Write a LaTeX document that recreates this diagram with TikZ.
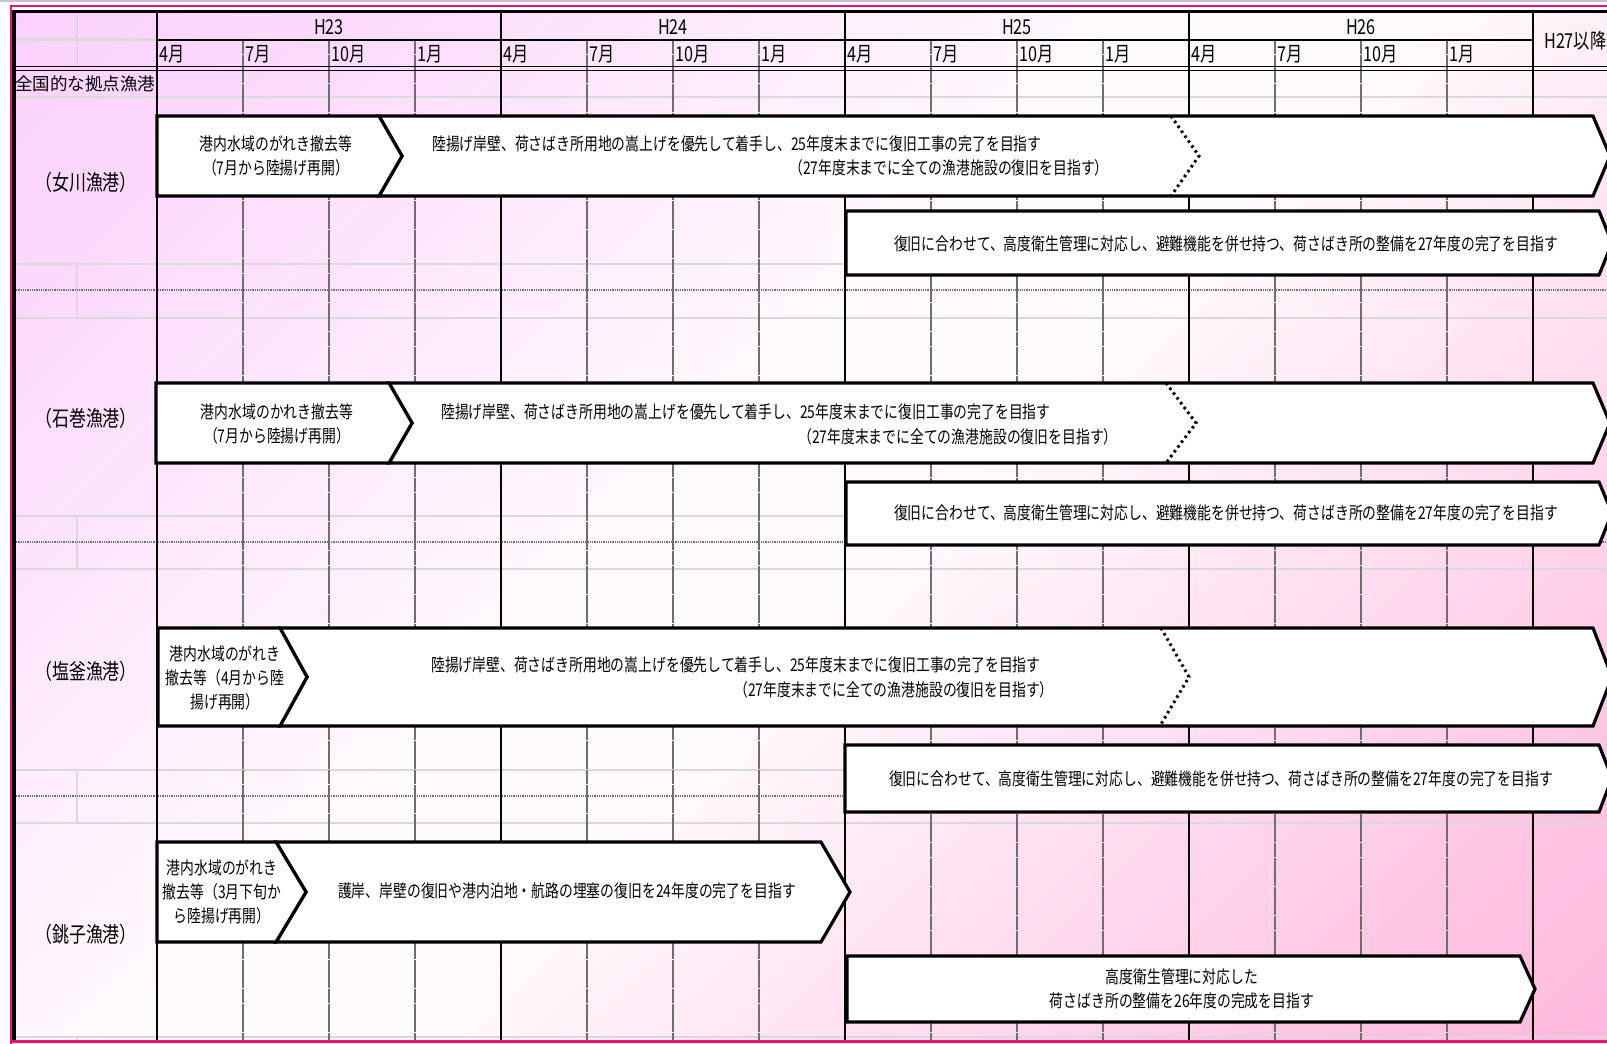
\documentclass[tikz,border=0pt]{standalone}
\usepackage{fontspec}
\newfontfamily\jpnarrow[FakeStretch=0.79]{Noto Sans CJK JP}
\newfontfamily\jpplain{Noto Sans CJK JP}
\definecolor{rim}{RGB}{236,18,110}
\definecolor{lilac}{RGB}{205,192,214}
\definecolor{cellgray}{RGB}{218,216,220}
\definecolor{qgray}{RGB}{110,110,110}
\definecolor{pinktl}{RGB}{248,196,248}
\definecolor{pinktlsoft}{RGB}{252,216,252}
\definecolor{pinkmid}{RGB}{255,250,253}
\definecolor{pinkbrsoft}{RGB}{255,196,227}
\definecolor{pinkbr}{RGB}{255,162,210}
\pgfdeclareverticalshading{sheet}{100bp}{color(0bp)=(pinkbr); color(22bp)=(pinkbrsoft); color(47bp)=(pinkmid); color(55bp)=(pinkmid); color(78bp)=(pinktlsoft); color(100bp)=(pinktl)}
\tikzset{
	plan/.style={draw=black, line width=3.2pt, fill=white},
	txt/.style={font=\jpnarrow\fontsize{17.5}{24}\selectfont, inner sep=0pt, align=center},
	head/.style={font=\jpnarrow\fontsize{20.5}{22}\selectfont, inner sep=0pt},
	port/.style={font=\jpnarrow\fontsize{21.5}{24}\selectfont, inner sep=0pt},
	cellline/.style={cellgray, line width=2.5pt},
	secline/.style={qgray, line width=2.5pt, dash pattern=on 1pt off 0.8pt},
	quarter/.style={qgray, line width=1.4pt, dash pattern=on 14pt off 0.6pt},
	yearline/.style={black, line width=2pt},
	hop/.style={black, line width=3pt, dash pattern=on 2.5pt off 3.5pt}
}
\begin{document}
\begin{tikzpicture}[x=1pt, y=-1pt]
	\useasboundingbox (0,0) rectangle (1607,1044);
	\clip (0,0) rectangle (1607,1044);
	\shade[shading=sheet, shading angle=45] (14,12) rectangle (1607,1041);
	\foreach \yy in {97,264,318,516,569,770,823,1037}{
		\draw[cellline] (14,\yy) -- (1607,\yy);
	}
	\draw[cellline] (14,39.5) -- (157,39.5);
	\foreach \ya/\yb in {12/66,264/318,516/569,770/823,1037/1041}{
		\draw[cellline] (77,\ya) -- (77,\yb);
	}
	\foreach \yy in {290,542,796}{
		\draw[secline] (14,\yy) -- (1607,\yy);
	}
	\foreach \yr in {0,...,3}{
		\foreach \q in {1,2,3}{
			\draw[quarter] ({157+344*\yr+86*\q},40) -- ({157+344*\yr+86*\q},1041);
		}
	}
	\foreach \yr in {0,...,4}{
		\draw[yearline] ({157+344*\yr},12) -- ({157+344*\yr},1041);
	}
	\draw[black, line width=1.5pt] (157,40) -- (1533,40);
	\draw[black, line width=1.5pt] (14,66.5) -- (1607,66.5);
	\draw[black, line width=1.5pt] (14,70.5) -- (1607,70.5);
	\draw[lilac, line width=2pt] (0,1) -- (1607,1);
	\draw[rim, line width=2pt] (10.5,1044) -- (10.5,6) -- (1607,6);
	\draw[black, line width=3.5pt] (14,1041) -- (14,11.5) -- (1607,11.5);
	\draw[rim, line width=3pt] (10,1041.5) -- (1607,1041.5);

	\foreach \yr/\lab in {0/H23,1/H24,2/H25,3/H26}{
		\node[head] (yr\lab) at ({329+344*\yr},27) {\lab};
		\foreach \q/\mon in {0/4,1/7,2/10,3/1}{
			\node[head, anchor=west] (m\lab-\q) at ({159+344*\yr+86*\q},54) {\mon{}月};
		}
	}
	\node[head, anchor=west] (later) at (1544,41) {H27以降};
	\node[font=\jpplain\fontsize{17.5}{20}\selectfont, inner sep=0pt, anchor=west] (national) at (15,84) {全国的な拠点漁港};
	\node[port] (onagawa) at (86,182) {（女川漁港）};
	\node[port] (ishinomaki) at (86,418) {（石巻漁港）};
	\node[port] (shiogama) at (86,671) {（塩釜漁港）};
	\node[port] (choshi) at (86,934) {（銚子漁港）};

	\draw[plan] (379,116) -- (1593,116) -- (1610,156) -- (1593,196) -- (379,196) -- (402,156) -- cycle;
	\draw[plan] (157,116) -- (379,116) -- (402,156) -- (379,196) -- (157,196) -- cycle;
	\draw[hop] (1171,116) -- (1199,156) -- (1171,196);
	\draw[plan] (846,211) -- (1599,211) -- (1612,243) -- (1599,275) -- (846,275) -- cycle;
	\node[txt] (onaA) at (276,156) {港内水域のがれき撤去等\\（7月から陸揚げ再開）};
	\node[txt, anchor=west] (onaB1) at (432,144) {陸揚げ岸壁、荷さばき所用地の嵩上げを優先して着手し、25年度末までに復旧工事の完了を目指す};
	\node[txt, anchor=west] (onaB2) at (789,168) {（27年度末までに全ての漁港施設の復旧を目指す）};
	\node[txt] (onaC) at (1226,244) {復旧に合わせて、高度衛生管理に対応し、避難機能を併せ持つ、荷さばき所の整備を27年度の完了を目指す};

	\draw[plan] (389,383) -- (1593,383) -- (1610,423) -- (1593,463) -- (389,463) -- (412,423) -- cycle;
	\draw[plan] (156,383) -- (389,383) -- (412,423) -- (389,463) -- (156,463) -- cycle;
	\draw[hop] (1166,383) -- (1196,423) -- (1166,463);
	\draw[plan] (846,482) -- (1599,482) -- (1612,513) -- (1599,545) -- (846,545) -- cycle;
	\node[txt] (ishiA) at (277,424) {港内水域のかれき撤去等\\（7月から陸揚げ再開）};
	\node[txt, anchor=west] (ishiB1) at (441,412) {陸揚げ岸壁、荷さばき所用地の嵩上げを優先して着手し、25年度末までに復旧工事の完了を目指す};
	\node[txt, anchor=west] (ishiB2) at (798,437) {（27年度末までに全ての漁港施設の復旧を目指す）};
	\node[txt] (ishiC) at (1226,513) {復旧に合わせて、高度衛生管理に対応し、避難機能を併せ持つ、荷さばき所の整備を27年度の完了を目指す};

	\draw[plan] (280,628) -- (1593,628) -- (1612,677) -- (1593,726) -- (280,726) -- (307,677) -- cycle;
	\draw[plan] (158,628) -- (280,628) -- (307,677) -- (280,726) -- (158,726) -- cycle;
	\draw[hop] (1161,628) -- (1189,677) -- (1160,726);
	\draw[plan] (845,745) -- (1599,745) -- (1612,778) -- (1599,812) -- (845,812) -- cycle;
	\node[txt] (shioA) at (225,678) {港内水域のがれき\\撤去等（4月から陸\\揚げ再開）};
	\node[txt, anchor=west] (shioB1) at (431,665) {陸揚げ岸壁、荷さばき所用地の嵩上げを優先して着手し、25年度末までに復旧工事の完了を目指す};
	\node[txt, anchor=west] (shioB2) at (734,690) {（27年度末までに全ての漁港施設の復旧を目指す）};
	\node[txt] (shioC) at (1221,779) {復旧に合わせて、高度衛生管理に対応し、避難機能を併せ持つ、荷さばき所の整備を27年度の完了を目指す};

	\draw[plan] (276,842) -- (821,842) -- (850,892) -- (821,942) -- (276,942) -- (306,892) -- cycle;
	\draw[plan] (157,842) -- (276,842) -- (306,892) -- (276,942) -- (157,942) -- cycle;
	\draw[plan] (847,956) -- (1520,956) -- (1535,989) -- (1520,1022) -- (847,1022) -- cycle;
	\node[txt] (choA) at (222,892) {港内水域のがれき\\撤去等（3月下旬か\\ら陸揚げ再開）};
	\node[txt] (choB) at (567,891) {護岸、岸壁の復旧や港内泊地・航路の埋塞の復旧を24年度の完了を目指す};
	\node[txt] (choC) at (1182,989) {高度衛生管理に対応した\\荷さばき所の整備を26年度の完成を目指す};
\end{tikzpicture}
\end{document}
